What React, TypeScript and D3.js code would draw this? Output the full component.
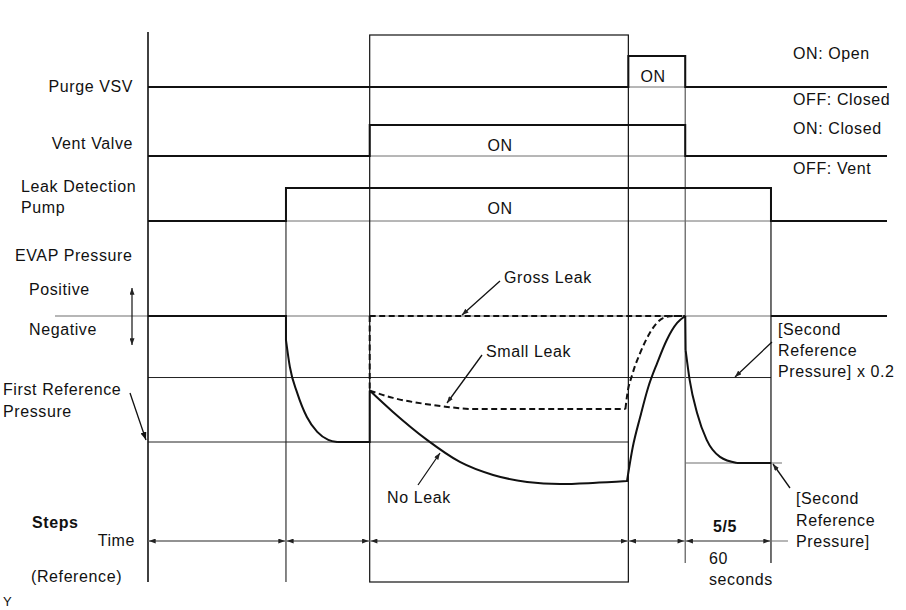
import React from "react";
import * as d3 from "d3";

// ---- data ----
const phaseBounds = [0, 18.67, 30.0, 65.0, 72.7, 84.3]; // time units
const timeEnd = 100;
const purgeOn = [65.0, 72.7];
const ventOn = [30.0, 72.7];
const pumpOn = [18.67, 84.3];

// pressure levels (arbitrary units, negative = vacuum)
const firstRef = -6.0;
const secondRef = -7.0;
const secondRef02 = -2.93;
const startLevel = -3.55;

// EVAP pressure curves [time, pressure]
const pumpDown: [number, number][] = [
  [18.67, -1.14], [19.2, -2.43], [20.2, -3.67], [21.5, -4.81], [22.9, -5.52], [24.4, -5.9], [25.6, -6.0],
];
const noLeak: [number, number][] = [
  [30.0, startLevel], [33.15, -4.57], [37.75, -5.9], [42.2, -6.95], [46.7, -7.57], [51.3, -7.9], [55.75, -8.0], [60.2, -7.95], [64.8, -7.86],
];
const noLeakRise: [number, number][] = [
  [64.8, -7.9], [65.6, -6.24], [66.6, -4.81], [67.7, -3.38], [68.9, -2.24], [70.2, -1.14], [71.6, -0.33], [72.7, 0],
];
const secondDrop: [number, number][] = [
  [72.75, -1.62], [73.3, -3.05], [74.3, -4.62], [75.6, -5.9], [77.4, -6.71], [79.7, -7.0],
];
const smallLeak: [number, number][] = [
  [30.0, startLevel], [33.15, -3.9], [37.75, -4.2], [40.5, -4.33], [44.0, -4.43], [64.6, -4.43],
];
const smallLeakRise: [number, number][] = [
  [64.6, -4.43], [64.8, -3.86], [65.6, -2.71], [66.6, -1.76], [67.9, -0.81], [69.7, -0.1], [71.0, 0], [72.7, 0],
];

const FONT = "'Liberation Sans', Arial, Helvetica, sans-serif";

export default function App() {
  const W = 906, H = 610;
  const x = d3.scaleLinear().domain([0, timeEnd]).range([148, 887]);
  const yP = d3.scaleLinear().domain([0, -10]).range([316, 526]);

  const rows = [
    { base: 87, high: 56, on: purgeOn },
    { base: 156, high: 125, on: ventOn },
    { base: 221, high: 188, on: pumpOn },
  ];

  const stepLine = d3.line<[number, number]>().x((d) => x(d[0])).y((d) => d[1]);
  const signalPath = (r: { base: number; high: number; on: number[] }) =>
    stepLine([
      [0, r.base],
      [r.on[0], r.base],
      [r.on[0], r.high],
      [r.on[1], r.high],
      [r.on[1], r.base],
      [timeEnd, r.base],
    ]) || "";

  const lin = d3.line<[number, number]>().x((d) => x(d[0])).y((d) => yP(d[1]));
  const smooth = d3
    .line<[number, number]>()
    .x((d) => x(d[0]))
    .y((d) => yP(d[1]))
    .curve(d3.curveMonotoneX);

  const solidPath =
    (lin([[0, 0], [phaseBounds[1], 0], [phaseBounds[1], -1.14]]) || "") +
    (smooth(pumpDown) || "") +
    (lin([[25.6, firstRef], [phaseBounds[2], firstRef], [phaseBounds[2], startLevel]]) || "") +
    (smooth(noLeak) || "") +
    (smooth(noLeakRise) || "") +
    (lin([[72.7, 0], [72.75, -1.62]]) || "") +
    (smooth(secondDrop) || "") +
    (lin([[79.7, secondRef], [phaseBounds[5], secondRef]]) || "") +
    (lin([[phaseBounds[5], 0], [timeEnd, 0]]) || "");

  const dashedPath =
    (lin([[phaseBounds[2], 0], [phaseBounds[4], 0]]) || "") +
    (lin([[phaseBounds[2], 0], [phaseBounds[2], startLevel]]) || "") +
    (smooth(smallLeak) || "") +
    (smooth(smallLeakRise) || "");

  const txt = (
    s: string,
    tx: number,
    cy: number,
    opts: { anchor?: string; bold?: boolean; size?: number } = {}
  ) => (
    <text
      key={s + tx + cy}
      x={tx}
      y={cy + 5.7}
      textAnchor={(opts.anchor as any) || "start"}
      fontFamily={FONT}
      fontSize={opts.size || 16}
      fontWeight={opts.bold ? "bold" : "normal"}
      letterSpacing={0.6}
      fill="#111"
    >
      {s}
    </text>
  );

  const timeY = 541;
  const gray = "#6f6f6f";

  return (
    <svg width={W} height={H} style={{ position: "absolute", left: 0, top: 0, background: "#fff" }}>
      <defs>
        <marker id="ah" viewBox="0 0 8 6" refX="8" refY="3" markerWidth="8" markerHeight="6" orient="auto-start-reverse" markerUnits="userSpaceOnUse">
          <path d="M0,0 L8,3 L0,6 z" fill="#111" />
        </marker>
        <marker id="ahs" viewBox="0 0 8 6" refX="8" refY="3" markerWidth="7" markerHeight="5" orient="auto-start-reverse" markerUnits="userSpaceOnUse">
          <path d="M0,0 L8,3 L0,6 z" fill="#222" />
        </marker>
      </defs>
      <rect width={W} height={H} fill="#fff" />

      {/* signal baselines */}
      {rows.map((r, i) => (
        <line key={"b" + i} x1={x(0)} x2={x(timeEnd)} y1={r.base} y2={r.base} stroke={gray} strokeWidth={1} />
      ))}

      {/* pressure reference lines */}
      <line x1={55} x2={x(timeEnd)} y1={yP(0)} y2={yP(0)} stroke={gray} strokeWidth={1.2} />
      <line x1={x(0)} x2={x(phaseBounds[5])} y1={yP(secondRef02)} y2={yP(secondRef02)} stroke="#222" strokeWidth={1} />
      <line x1={x(0)} x2={x(phaseBounds[3])} y1={yP(firstRef)} y2={yP(firstRef)} stroke="#222" strokeWidth={1} />
      <line x1={x(phaseBounds[4])} x2={x(phaseBounds[5]) + 11} y1={yP(secondRef)} y2={yP(secondRef)} stroke={gray} strokeWidth={1.2} />

      {/* vertical boundary lines */}
      <line x1={x(0)} x2={x(0)} y1={32} y2={582} stroke="#111" strokeWidth={1.6} />
      <line x1={x(phaseBounds[1])} x2={x(phaseBounds[1])} y1={188} y2={582} stroke="#222" strokeWidth={1.1} />
      <rect x={x(phaseBounds[2])} y={35} width={x(phaseBounds[3]) - x(phaseBounds[2])} height={547} fill="none" stroke="#111" strokeWidth={1.2} />
      <line x1={x(phaseBounds[4])} x2={x(phaseBounds[4])} y1={56} y2={563} stroke={gray} strokeWidth={1.4} />
      <line x1={x(phaseBounds[5])} x2={x(phaseBounds[5])} y1={188} y2={563} stroke="#111" strokeWidth={1.2} />

      {/* signals */}
      {rows.map((r, i) => (
        <path key={"s" + i} d={signalPath(r)} fill="none" stroke="#111" strokeWidth={2} />
      ))}

      {/* pressure curves */}
      <path d={solidPath} fill="none" stroke="#111" strokeWidth={2} />
      <path d={dashedPath} fill="none" stroke="#111" strokeWidth={2} strokeDasharray="6,3.5" />

      {/* time row */}
      <line x1={x(0)} x2={x(phaseBounds[5]) + 17} y1={timeY} y2={timeY} stroke={gray} strokeWidth={1.2} />
      {phaseBounds.slice(0, -1).map((b, i) => (
        <line
          key={"ta" + i}
          x1={x(b) + 1}
          x2={x(phaseBounds[i + 1]) - 1}
          y1={timeY}
          y2={timeY}
          stroke={gray}
          strokeWidth={1.2}
          markerStart="url(#ahs)"
          markerEnd="url(#ahs)"
        />
      ))}

      {/* pointers */}
      <line x1={132} x2={132} y1={288} y2={345} stroke="#111" strokeWidth={1.2} markerStart="url(#ahs)" markerEnd="url(#ahs)" />
      <line x1={130} y1={393} x2={146} y2={440} stroke="#111" strokeWidth={1.3} markerEnd="url(#ah)" />
      <line x1={500} y1={281} x2={462} y2={315} stroke="#111" strokeWidth={1.3} markerEnd="url(#ahs)" />
      <line x1={482} y1={355} x2={447} y2={403} stroke="#111" strokeWidth={1.3} markerEnd="url(#ahs)" />
      <line x1={418} y1={485} x2={440} y2={453} stroke="#111" strokeWidth={1.3} markerEnd="url(#ahs)" />
      <line x1={772} y1={342} x2={735} y2={377} stroke="#111" strokeWidth={1.3} markerEnd="url(#ahs)" />
      <line x1={790} y1={488} x2={773} y2={464} stroke="#111" strokeWidth={1.3} markerEnd="url(#ahs)" />

      {/* labels */}
      {txt("Purge VSV", 133, 86, { anchor: "end" })}
      {txt("Vent Valve", 133, 143, { anchor: "end" })}
      {txt("Leak Detection", 21, 186)}
      {txt("Pump", 21, 207)}
      {txt("EVAP Pressure", 15, 255)}
      {txt("Positive", 29, 289)}
      {txt("Negative", 29, 329)}
      {txt("First Reference", 3, 389)}
      {txt("Pressure", 3, 411)}
      {txt("Steps", 32, 522, { bold: true })}
      {txt("Time", 135, 540, { anchor: "end" })}
      {txt("(Reference)", 31, 576)}
      {txt("Y", 3, 600, { size: 13 })}
      {txt("ON", 653, 76, { anchor: "middle" })}
      {txt("ON", 500, 145, { anchor: "middle" })}
      {txt("ON", 500, 208, { anchor: "middle" })}
      {txt("ON: Open", 793, 53)}
      {txt("OFF: Closed", 793, 99)}
      {txt("ON: Closed", 793, 128)}
      {txt("OFF: Vent", 793, 168)}
      {txt("Gross Leak", 504, 277)}
      {txt("Small Leak", 486, 351)}
      {txt("No Leak", 387, 497)}
      {txt("[Second", 778, 329)}
      {txt("Reference", 778, 350)}
      {txt("Pressure] x 0.2", 778, 371)}
      {txt("[Second", 796, 498)}
      {txt("Reference", 796, 520)}
      {txt("Pressure]", 796, 541)}
      {txt("5/5", 725, 526, { anchor: "middle", bold: true })}
      {txt("60", 709, 558)}
      {txt("seconds", 709, 579)}
    </svg>
  );
}
